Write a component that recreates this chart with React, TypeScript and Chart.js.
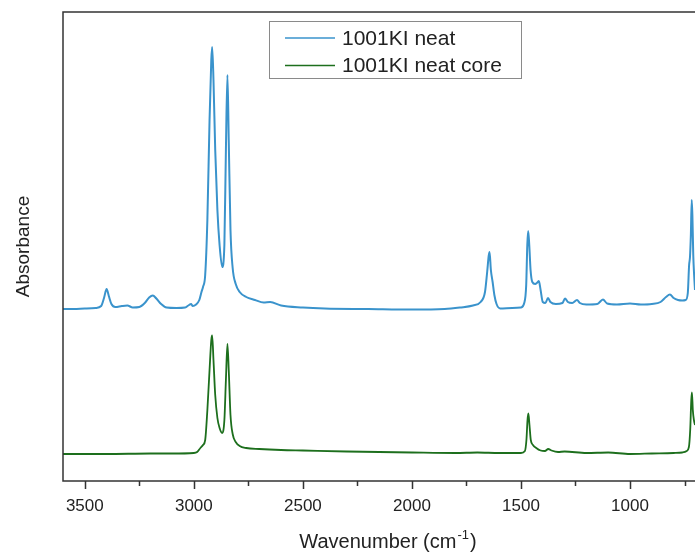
import React, { useEffect, useRef } from 'react';
import { Chart, registerables } from 'chart.js';

Chart.register(...registerables);

// ---- Data ----
const seriesLabels = ['1001KI neat', '1001KI neat core'];
const seriesColors = ['#3A93CC', '#1D6F1D'];

const wavenumbersNeat = [
  3600, 3550, 3500, 3450, 3425, 3412, 3400, 3390, 3378, 3360, 3330, 3305, 3280, 3250, 3225, 3205, 3188, 3172,
  3150, 3125, 3080, 3040, 3022, 3013, 3005, 2990, 2975, 2965, 2958, 2948, 2938, 2928, 2920, 2916, 2910, 2902,
  2892, 2882, 2870, 2860, 2853, 2846, 2840, 2832, 2822, 2808, 2790, 2760, 2720, 2680, 2650, 2600, 2500, 2400,
  2200, 2000, 1850, 1780, 1720, 1685, 1665, 1655, 1648, 1644, 1638, 1630, 1622, 1612, 1595, 1540, 1500, 1485,
  1476, 1471, 1467, 1462, 1456, 1448, 1435, 1425, 1418, 1410, 1400, 1388, 1376, 1365, 1340, 1310, 1298, 1285,
  1265, 1243, 1230, 1200, 1150, 1124, 1105, 1060, 1000, 950, 900, 860, 835, 817, 800, 780, 760, 745, 735, 729,
  725, 721, 717, 714, 710, 706, 702,
];
const absorbanceNeat = [
  1.72, 1.72, 1.725, 1.73, 1.75, 1.83, 1.92, 1.85, 1.77, 1.74, 1.75, 1.755, 1.735, 1.74, 1.78, 1.835, 1.855, 1.825,
  1.77, 1.735, 1.73, 1.735, 1.76, 1.77, 1.75, 1.765, 1.81, 1.89, 1.94, 2.06, 2.61, 3.61, 4.21, 4.34, 4.01, 3.31,
  2.71, 2.36, 2.14, 2.36, 3.31, 4.06, 3.41, 2.51, 2.13, 1.97, 1.89, 1.84, 1.81, 1.785, 1.79, 1.755, 1.735, 1.725,
  1.72, 1.715, 1.72, 1.735, 1.755, 1.79, 1.89, 2.09, 2.25, 2.29, 2.11, 1.99, 1.86, 1.77, 1.725, 1.73, 1.735, 1.78,
  1.96, 2.36, 2.5, 2.36, 2.11, 1.99, 1.97, 1.985, 2.0, 1.91, 1.79, 1.78, 1.83, 1.79, 1.77, 1.78, 1.825, 1.79,
  1.78, 1.81, 1.78, 1.765, 1.77, 1.815, 1.775, 1.765, 1.775, 1.765, 1.77, 1.79, 1.84, 1.865, 1.83, 1.81, 1.805, 1.81, 1.88, 2.16,
  2.24, 2.46, 2.81, 2.66, 2.26, 2.06, 1.91,
];

const wavenumbersCore = [
  3600, 3400, 3200, 3100, 3000, 2985, 2970, 2958, 2948, 2938, 2928, 2920, 2916, 2910, 2902, 2892, 2882, 2870,
  2860, 2853, 2846, 2840, 2832, 2822, 2808, 2790, 2760, 2700, 2600, 2500, 2300, 2000, 1800, 1700, 1600, 1500,
  1482, 1475, 1470, 1466, 1461, 1455, 1445, 1430, 1410, 1390, 1375, 1360, 1330, 1300, 1200, 1100, 1000, 900,
  800, 760, 740, 730, 724, 719, 716, 712, 707, 702,
];
const absorbanceCore = [
  0.27, 0.27, 0.275, 0.275, 0.28, 0.29, 0.33, 0.36, 0.41, 0.71, 1.11, 1.41, 1.455, 1.21, 0.86, 0.63, 0.53, 0.48,
  0.61, 1.01, 1.37, 1.11, 0.66, 0.47, 0.39, 0.35, 0.33, 0.32, 0.31, 0.305, 0.295, 0.285, 0.28, 0.285, 0.28, 0.28,
  0.3, 0.41, 0.61, 0.675, 0.56, 0.41, 0.36, 0.33, 0.305, 0.3, 0.32, 0.305, 0.29, 0.295, 0.28, 0.285, 0.27, 0.275,
  0.28, 0.285, 0.3, 0.34, 0.51, 0.81, 0.885, 0.71, 0.61, 0.56,
];

const xMajorTicks = [3500, 3000, 2500, 2000, 1500, 1000];
const xMinorTicks = [3250, 2750, 2250, 1750, 1250, 750];
const xRange = [702, 3600];
const yRange = [0, 4.69];
const yTitle = 'Absorbance';
const xTitleMain = 'Wavenumber (cm';
const xTitleSup = '-1';
const xTitleEnd = ')';

const FONT = '"Liberation Sans", Arial, Helvetica, sans-serif';

const framePlugin = {
  id: 'framePlugin',
  afterDraw(chart: any) {
    const { ctx, chartArea } = chart;
    const { left, top, right, bottom } = chartArea;
    const xs = chart.scales.x;
    ctx.save();
    // frame
    ctx.strokeStyle = '#333';
    ctx.lineWidth = 1.5;
    ctx.beginPath();
    ctx.moveTo(right + 2, top);
    ctx.lineTo(left, top);
    ctx.lineTo(left, bottom);
    ctx.lineTo(right + 2, bottom);
    ctx.stroke();
    // ticks
    ctx.beginPath();
    xMajorTicks.forEach((v) => {
      const px = Math.round(xs.getPixelForValue(v)) + 0.5;
      ctx.moveTo(px, bottom);
      ctx.lineTo(px, bottom + 8);
    });
    xMinorTicks.forEach((v) => {
      const px = Math.round(xs.getPixelForValue(v)) + 0.5;
      ctx.moveTo(px, bottom);
      ctx.lineTo(px, bottom + 5);
    });
    ctx.stroke();

    // y title
    ctx.fillStyle = '#222';
    ctx.font = `19px ${FONT}`;
    ctx.textAlign = 'center';
    ctx.textBaseline = 'middle';
    ctx.save();
    ctx.translate(24, (top + bottom) / 2);
    ctx.rotate(-Math.PI / 2);
    ctx.fillText(yTitle, 0, 0);
    ctx.restore();

    // x title with superscript
    ctx.textAlign = 'left';
    ctx.textBaseline = 'alphabetic';
    ctx.font = `20px ${FONT}`;
    const w1 = ctx.measureText(xTitleMain).width;
    ctx.font = `13px ${FONT}`;
    const w2 = ctx.measureText(xTitleSup).width;
    ctx.font = `20px ${FONT}`;
    const w3 = ctx.measureText(xTitleEnd).width;
    const total = w1 + w2 + 2 + w3;
    let tx = 388 - total / 2;
    const base = 548;
    ctx.fillText(xTitleMain, tx, base);
    tx += w1 + 1;
    ctx.font = `13px ${FONT}`;
    ctx.fillText(xTitleSup, tx, base - 9);
    tx += w2 + 1;
    ctx.font = `20px ${FONT}`;
    ctx.fillText(xTitleEnd, tx, base);

    // legend
    ctx.strokeStyle = '#8a8a8a';
    ctx.lineWidth = 1;
    ctx.strokeRect(269.5, 21.5, 252, 57);
    ctx.font = `21px ${FONT}`;
    ctx.fillStyle = '#222';
    ctx.textBaseline = 'middle';
    seriesLabels.forEach((label, i) => {
      const ly = 38 + i * 27.5;
      ctx.strokeStyle = seriesColors[i];
      ctx.lineWidth = 1.6;
      ctx.beginPath();
      ctx.moveTo(285, ly);
      ctx.lineTo(335, ly);
      ctx.stroke();
      ctx.fillText(label, 342, ly + 1);
    });
    ctx.restore();
  },
};

export default function App() {
  const canvasRef = useRef<HTMLCanvasElement | null>(null);

  useEffect(() => {
    document.body.style.margin = '0';
    document.body.style.overflow = 'hidden';
    const canvas = canvasRef.current;
    if (!canvas) return;
    const chart = new Chart(canvas, {
      type: 'line',
      data: {
        datasets: [
          {
            label: seriesLabels[0],
            data: wavenumbersNeat.map((x, i) => ({ x, y: absorbanceNeat[i] })),
            borderColor: seriesColors[0],
            borderWidth: 2,
            pointRadius: 0,
            cubicInterpolationMode: 'monotone',
            fill: false,
          },
          {
            label: seriesLabels[1],
            data: wavenumbersCore.map((x, i) => ({ x, y: absorbanceCore[i] })),
            borderColor: seriesColors[1],
            borderWidth: 1.8,
            pointRadius: 0,
            cubicInterpolationMode: 'monotone',
            fill: false,
          },
        ],
      },
      options: {
        animation: false,
        responsive: false,
        maintainAspectRatio: false,
        devicePixelRatio: 1,
        layout: { padding: { left: 63, top: 12, right: 0, bottom: 0 } },
        plugins: {
          legend: { display: false },
          tooltip: { enabled: false },
        },
        scales: {
          x: {
            type: 'linear',
            reverse: true,
            min: xRange[0],
            max: xRange[1],
            grid: { display: false, drawTicks: false },
            border: { display: false },
            afterBuildTicks: (scale: any) => {
              scale.ticks = xMajorTicks.map((v) => ({ value: v }));
            },
            afterFit: (scale: any) => {
              scale.height = 73;
            },
            ticks: {
              autoSkip: false,
              maxRotation: 0,
              padding: 15,
              color: '#222',
              font: { family: FONT, size: 17 },
              callback: (v: any) => String(v),
            },
          },
          y: {
            display: false,
            min: yRange[0],
            max: yRange[1],
          },
        },
      },
      plugins: [framePlugin],
    });
    return () => chart.destroy();
  }, []);

  return (
    <div style={{ width: 695, height: 554, background: '#fff' }}>
      <canvas ref={canvasRef} width={695} height={554} style={{ display: 'block' }} />
    </div>
  );
}
